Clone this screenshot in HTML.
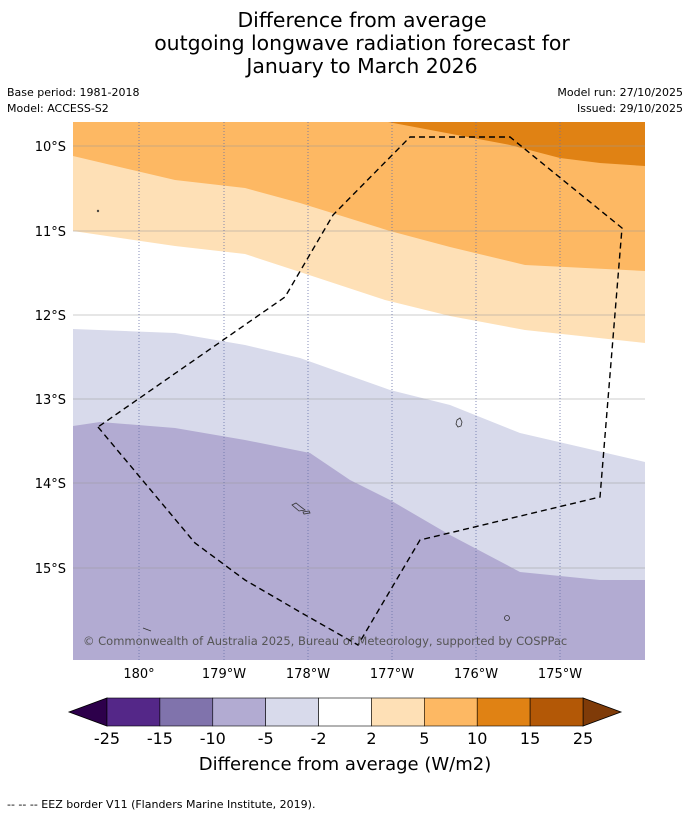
<!DOCTYPE html>
<html><head><meta charset="utf-8"><style>
body{margin:0;background:#fff;width:690px;height:816px;overflow:hidden;font-family:"Liberation Sans","DejaVu Sans",sans-serif}
</style></head><body>
<svg width="690" height="816" viewBox="0 0 690 816" xmlns="http://www.w3.org/2000/svg" font-family="DejaVu Sans, Liberation Sans, sans-serif">
<text x="362" y="27" font-size="20.4" text-anchor="middle">Difference from average</text>
<text x="362" y="50" font-size="20.4" text-anchor="middle">outgoing longwave radiation forecast for</text>
<text x="362" y="73" font-size="20.4" text-anchor="middle">January to March 2026</text>
<text x="7" y="96" font-size="11">Base period: 1981-2018</text>
<text x="7" y="112" font-size="11">Model: ACCESS-S2</text>
<text x="683" y="96" font-size="11" text-anchor="end">Model run: 27/10/2025</text>
<text x="683" y="112" font-size="11" text-anchor="end">Issued: 29/10/2025</text>
<defs><clipPath id="mc"><rect x="73" y="122" width="572" height="538"/></clipPath></defs>
<g clip-path="url(#mc)">
<rect x="73" y="122" width="572" height="538" fill="#b2abd2"/>
<polygon fill="#d8daeb" points="60,110 660,110 660,580 645,580 600,580 520,572 450,535 390,500 350,480 310,453 245,440 175,428 100,422 73,426 60,426"/>
<polygon fill="#ffffff" points="60,110 660,110 660,462 645,462 520,433 450,405 390,390 300,358 245,345 175,333 73,329 60,329"/>
<polygon fill="#fee0b6" points="60,110 660,110 660,343 645,343 525,330 450,316 385,300 300,272 245,254 175,246 73,231 60,231"/>
<polygon fill="#fdb863" points="60,110 660,110 660,271 645,271 525,265 450,247 390,231 300,203 245,188 175,180 73,156 60,156"/>
<polygon fill="#e08214" points="388,122 510,145 560,158 600,163 645,166 660,166 660,110 388,110"/>
<g stroke="#999" stroke-width="0.6">
<line x1="73" x2="645" y1="146" y2="146"/><line x1="73" x2="645" y1="231" y2="231"/><line x1="73" x2="645" y1="315" y2="315"/><line x1="73" x2="645" y1="399" y2="399"/><line x1="73" x2="645" y1="483" y2="483"/><line x1="73" x2="645" y1="568" y2="568"/>
</g>
<g stroke="#6670a8" stroke-width="0.8" stroke-dasharray="1,2">
<line y1="122" y2="660" x1="139" x2="139"/><line y1="122" y2="660" x1="224" x2="224"/><line y1="122" y2="660" x1="308" x2="308"/><line y1="122" y2="660" x1="392" x2="392"/><line y1="122" y2="660" x1="476" x2="476"/><line y1="122" y2="660" x1="560" x2="560"/>
</g>
<polyline fill="none" stroke="#000" stroke-width="1.4" stroke-dasharray="6,4" points="98,427 195,543 245,580 300,612 358,645 420,540 600,497 622,228 510,137 410,137 333,215 285,297 98,427"/>
<g fill="none" stroke="#333" stroke-width="0.8">
<path d="M292,505 l4,-2 l5,4 l4,3 l-6,1 z"/><path d="M303,512 l6,-1 l1,2 l-6,1 z"/><path d="M457,420 l3,-2 l2,4 l-1,4 l-3,1 l-2,-3 z"/><circle cx="507" cy="618" r="2.5"/><path d="M143,628 l8,3"/><circle cx="98" cy="211" r="0.8"/>
</g>
<text x="83" y="645" font-size="11.5" fill="#555">© Commonwealth of Australia 2025, Bureau of Meteorology, supported by COSPPac</text>
</g>
<g font-size="13" text-anchor="end">
<text x="66" y="151">10°S</text><text x="66" y="236">11°S</text><text x="66" y="320">12°S</text><text x="66" y="404">13°S</text><text x="66" y="488">14°S</text><text x="66" y="573">15°S</text>
</g>
<g font-size="13" text-anchor="middle">
<text x="139" y="678">180°</text><text x="224" y="678">179°W</text><text x="308" y="678">178°W</text><text x="392" y="678">177°W</text><text x="476" y="678">176°W</text><text x="560" y="678">175°W</text>
</g>
<g id="cbar"></g>
<text x="345" y="770" font-size="18" text-anchor="middle">Difference from average (W/m2)</text>
<text x="7" y="808" font-size="11">--  --  -- EEZ border V11 (Flanders Marine Institute, 2019).</text>
</svg>
<script>
const levels=["-25","-15","-10","-5","-2","2","5","10","15","25"];
const binColors=["#542788","#8073ac","#b2abd2","#d8daeb","#ffffff","#fee0b6","#fdb863","#e08214","#b35806"];
const extendColors=["#2d004b","#7f3b08"];
const NS="http://www.w3.org/2000/svg";
const g=document.getElementById('cbar');
const x0=107,x1=583,y0=698,h=28;
const w=(x1-x0)/binColors.length;
function mk(t,a){const e=document.createElementNS(NS,t);for(const k in a)e.setAttribute(k,a[k]);g.appendChild(e);return e;}
const l=mk('polygon',{points:`${x0},${y0} ${x0},${y0+h} 69,${y0+h/2}`,fill:extendColors[0],stroke:'#000','stroke-width':0.8});


const r=mk('polygon',{points:`${x1},${y0} ${x1},${y0+h} 621,${y0+h/2}`,fill:extendColors[1],stroke:'#000','stroke-width':0.8});


binColors.forEach((c,i)=>{
 const e=mk('rect',{x:x0+i*w,y:y0,width:w,height:h,fill:c,stroke:'#000','stroke-width':0.6});
 
 
});
levels.forEach((v,i)=>{
 const t=mk('text',{x:x0+i*w,y:744,'font-size':16,'text-anchor':'middle'});
 t.textContent=v;
 
 
});
</script>
</body></html>
